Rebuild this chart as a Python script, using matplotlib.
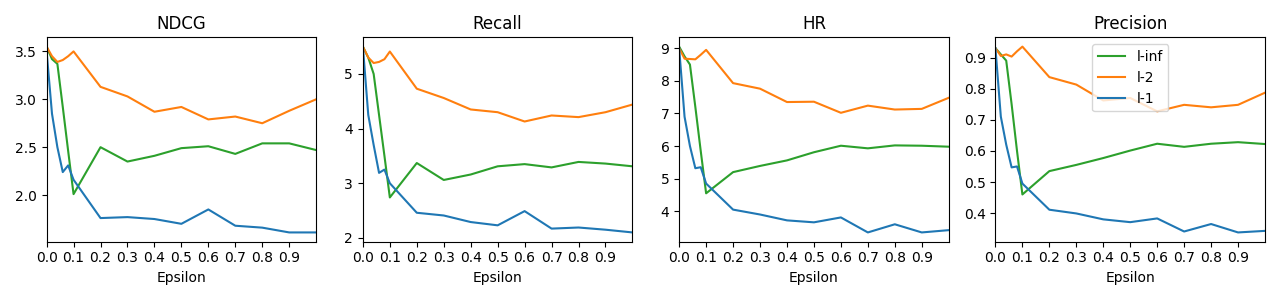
import matplotlib
matplotlib.use('Agg')
from matplotlib import pyplot as plt

epsilon = [0.0, 0.02, 0.04, 0.06, 0.08, 0.1, 0.2, 0.3, 0.4, 0.5, 0.6, 0.7, 0.8, 0.9, 1.0]

ndcg_linf = [3.55, 3.42, 3.37, 2.92, 2.46, 2.01, 2.50, 2.35, 2.41, 2.49, 2.51, 2.43, 2.54, 2.54, 2.47]
ndcg_l2 = [3.55, 3.45, 3.39, 3.41, 3.45, 3.50, 3.13, 3.03, 2.87, 2.92, 2.79, 2.82, 2.75, 2.88, 3.00]
ndcg_l1 = [3.50, 2.85, 2.50, 2.24, 2.31, 2.16, 1.76, 1.77, 1.75, 1.70, 1.85, 1.68, 1.66, 1.61, 1.61]

recall_linf = [5.50, 5.30, 5.00, 4.25, 3.50, 2.74, 3.37, 3.06, 3.16, 3.31, 3.35, 3.29, 3.39, 3.36, 3.31]
recall_l2 = [5.50, 5.30, 5.20, 5.22, 5.27, 5.41, 4.73, 4.56, 4.35, 4.30, 4.13, 4.24, 4.21, 4.30, 4.44]
recall_l1 = [5.50, 4.25, 3.70, 3.19, 3.25, 3.00, 2.46, 2.41, 2.29, 2.23, 2.49, 2.17, 2.19, 2.15, 2.10]

hr_linf = [9.05, 8.75, 8.50, 7.20, 5.85, 4.55, 5.20, 5.39, 5.56, 5.81, 6.01, 5.93, 6.02, 6.01, 5.98]
hr_l2 = [9.00, 8.68, 8.67, 8.66, 8.80, 8.95, 7.93, 7.76, 7.35, 7.36, 7.02, 7.24, 7.12, 7.14, 7.48]
hr_l1 = [9.00, 6.90, 6.00, 5.32, 5.35, 4.85, 4.05, 3.90, 3.72, 3.66, 3.81, 3.35, 3.60, 3.35, 3.42]

prec_linf = [0.93, 0.91, 0.89, 0.75, 0.60, 0.46, 0.535, 0.555, 0.577, 0.601, 0.623, 0.613, 0.623, 0.628, 0.622]
prec_l2 = [0.93, 0.905, 0.91, 0.903, 0.92, 0.935, 0.837, 0.813, 0.762, 0.77, 0.727, 0.748, 0.74, 0.748, 0.787]
prec_l1 = [0.93, 0.71, 0.62, 0.547, 0.55, 0.495, 0.411, 0.399, 0.38, 0.371, 0.383, 0.341, 0.365, 0.338, 0.343]

panels = [
    ('NDCG', ndcg_linf, ndcg_l2, ndcg_l1),
    ('Recall', recall_linf, recall_l2, recall_l1),
    ('HR', hr_linf, hr_l2, hr_l1),
    ('Precision', prec_linf, prec_l2, prec_l1),
]

fig, axes = plt.subplots(1, 4, figsize=(12.8, 3), dpi=100)
for ax, (title, linf, l2, l1) in zip(axes, panels):
    ax.plot(epsilon, linf, color='tab:green', label='l-inf')
    ax.plot(epsilon, l2, color='tab:orange', label='l-2')
    ax.plot(epsilon, l1, color='tab:blue', label='l-1')
    ax.set_title(title)
    ax.set_xlabel('Epsilon')
    ax.set_xlim(0, 1.0)
    ax.set_xticks([0.0, 0.1, 0.2, 0.3, 0.4, 0.5, 0.6, 0.7, 0.8, 0.9])
axes[3].legend(loc='upper center')
fig.tight_layout()
fig.savefig('out.png')
